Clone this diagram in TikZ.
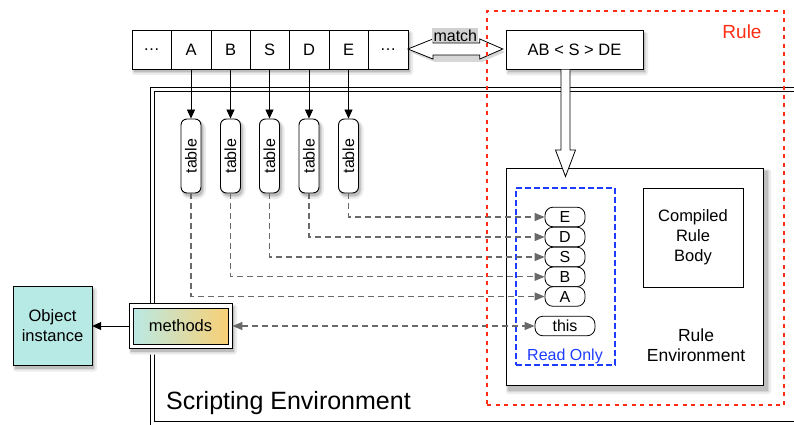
\documentclass[tikz,border=0pt]{standalone}
\usepackage{fontspec}
\setmainfont{Liberation Sans}
\usetikzlibrary{arrows.meta,calc}
\definecolor{objcol}{RGB}{183,233,229}
\definecolor{gcyan}{RGB}{186,233,228}
\definecolor{gorange}{RGB}{248,208,118}
\definecolor{rulered}{RGB}{255,45,20}
\definecolor{roblue}{RGB}{30,60,255}
\definecolor{dgray}{RGB}{105,105,105}
\definecolor{sh1}{RGB}{236,236,236}
\definecolor{sh2}{RGB}{215,215,215}
\definecolor{sh3}{RGB}{190,190,190}
% shadow behind a box: centre x, centre y, width, height, offset, corner radius
\newcommand\myshadow[6]{%
  \fill[sh1,rounded corners=#6+3pt] (#1-#3/2,#2-#4/2+1) rectangle (#1+#3/2+#5+2,#2+#4/2+#5+3);
  \fill[sh2,rounded corners=#6+1pt] (#1-#3/2+1,#2-#4/2+2) rectangle (#1+#3/2+#5,#2+#4/2+#5+1);
  \fill[sh3,rounded corners=#6] (#1-#3/2+2,#2-#4/2+3) rectangle (#1+#3/2+#5-1,#2+#4/2+#5);}
\begin{document}
\begin{tikzpicture}[x=1pt,y=-1pt,
  every node/.style={inner sep=0pt},
  cell/.style={draw,fill=white,minimum width=39.4pt,minimum height=39pt,font=\fontsize{16.5}{18}\selectfont},
  tbl/.style={draw,fill=white,rounded corners=6pt,minimum width=20pt,minimum height=74pt,line width=0.9pt,font=\fontsize{16}{16}\selectfont},
  slot/.style={draw,fill=white,rounded corners=8pt,minimum width=40pt,minimum height=19.6pt,line width=0.8pt,font=\fontsize{16}{18}\selectfont},
  blackarr/.style={-{Triangle[length=9pt,width=8pt]},line width=0.8pt},
  dashc/.style={draw=dgray,line width=1.1pt,dash pattern=on 6pt off 4pt,-{Triangle[length=10pt,width=8pt,fill=dgray]}},
  plaintext/.style={align=center,font=\fontsize{16.5}{20}\selectfont}
]
\useasboundingbox (0,0) rectangle (794,425);
\fill[white] (0,0) rectangle (794,425);

% scripting environment (double border)
\node[draw=black,line width=0.8pt,anchor=north west,minimum width=680pt,minimum height=338pt] (senv) at (150,87) {};
\node[draw=black,line width=0.8pt,anchor=north west,minimum width=672pt,minimum height=330pt] (senvin) at (154,91) {};
\node[anchor=west,font=\fontsize{25}{28}\selectfont] (stext) at (166,403) {Scripting Environment};

% shadows (drawn first)
\myshadow{270}{49.5}{276}{39}{3}{0pt}
\myshadow{574.5}{50}{137}{39}{3}{0pt}
\foreach \x in {191,230.5,269.5,309,348.5} {\myshadow{\x}{156}{20}{74}{3}{6pt}}
\myshadow{634.5}{276.5}{257}{217}{6}{0pt}
\myshadow{52.5}{326}{79}{79}{3}{0pt}
\myshadow{180.5}{326}{103}{45}{3}{0pt}

% top row of cells
\node[cell] (c0) at (151.5,49.5) {\dots};
\node[cell] (cA) at (191,49.5) {A};
\node[cell] (cB) at (230.5,49.5) {B};
\node[cell] (cS) at (269.5,49.5) {S};
\node[cell] (cD) at (309,49.5) {D};
\node[cell] (cE) at (348.5,49.5) {E};
\node[cell] (c1) at (388,49.5) {\dots};

% rule pattern
\node[draw,fill=white,minimum width=137pt,minimum height=39pt,font=\fontsize{16.5}{18}\selectfont] (pat) at (574.5,50) {AB < S > DE};

% match double arrow
\coordinate (ml) at (c1.east |- 0,49);
\coordinate (mr) at ($(pat.west |- 0,49)+(-3,0)$);
\fill[sh2] ($(ml)+(2,3)$) -- ($(ml)+(27,-7)$) -- ($(mr)+(-21,-7)$) -- ($(mr)+(2,3)$) -- ($(mr)+(-21,13)$) -- ($(ml)+(27,13)$) -- cycle;
\draw[fill=white,line width=0.8pt] (ml) -- ($(ml)+(25,-10)$) -- ($(ml)+(25,-6)$) -- ($(mr)+(-23,-6)$) -- ($(mr)+(-23,-10)$) -- (mr) -- ($(mr)+(-23,10)$) -- ($(mr)+(-23,6)$) -- ($(ml)+(25,6)$) -- ($(ml)+(25,10)$) -- cycle;
\node[fill=black!18,anchor=south,minimum width=46pt,minimum height=14pt,font=\fontsize{16}{16}\selectfont] (match) at ($(ml)!0.5!(mr)+(0,-6.5)$) {match};

% tables
\node[tbl] (tA) at (191,156) {\rotatebox{90}{table}};
\node[tbl] (tB) at (230.5,156) {\rotatebox{90}{table}};
\node[tbl] (tS) at (269.5,156) {\rotatebox{90}{table}};
\node[tbl] (tD) at (309,156) {\rotatebox{90}{table}};
\node[tbl] (tE) at (348.5,156) {\rotatebox{90}{table}};
\foreach \n in {A,B,S,D,E} {\draw[blackarr] (c\n.south) -- (t\n.north);}

% rule environment
\node[draw,fill=white,line width=0.9pt,minimum width=257pt,minimum height=217pt] (renv) at (634.5,276.5) {};
\node[draw,line width=0.9pt,minimum width=100pt,minimum height=99pt,plaintext] (crb) at (693,237.5) {Compiled\\Rule\\Body};
\node[plaintext,font=\fontsize{17.5}{20}\selectfont] (rtext) at (696,345) {Rule\\Environment};

% read only box
\node[draw=roblue,dash pattern=on 6pt off 3pt,line width=2.2pt,minimum width=99pt,minimum height=177pt] (ro) at (565.5,276.5) {};
\node[text=roblue,font=\fontsize{16}{18}\selectfont] (rotext) at (565,356.5) {Read Only};

\node[slot] (sE) at (565,217) {E};
\node[slot] (sD) at (565,237) {D};
\node[slot] (sS) at (565,257) {S};
\node[slot] (sB) at (565,276.8) {B};
\node[slot] (sA) at (565,296.5) {A};
\node[slot,minimum width=60pt] (this) at (565,326) {this};

\foreach \n in {A,B,S,D,E} {\path[dashc] (t\n.south) |- (s\n.west);}

% object & methods
\node[draw,fill=objcol,minimum width=79pt,minimum height=79pt,plaintext] (obj) at (52.5,326) {Object\\instance};
\node[draw,fill=white,line width=0.9pt,minimum width=103pt,minimum height=45pt] (mouter) at (180.5,326) {};
\node[draw,left color=gcyan,right color=gorange,line width=0.9pt,minimum width=95pt,minimum height=36pt,font=\fontsize{16.5}{18}\selectfont] (meth) at (mouter.center) {methods};
\draw[blackarr] (mouter.west) -- (obj.east);
\path[dashc,{Triangle[length=10pt,width=8pt,fill=dgray]}-{Triangle[length=10pt,width=8pt,fill=dgray]}] (mouter.east) -- (this.west);

% block arrow down
\coordinate (bt) at ($(pat.south)+(-9,0)$);
\coordinate (bb) at ($(renv.north)+(-69,9)$);
\draw[fill=white,line width=0.8pt] ($(bt)+(-4.5,0)$) -- ($(bt |- 0,150)+(-4.5,0)$) -- ($(bt |- 0,150)+(-10,0)$) -- (bt |- bb) -- ($(bt |- 0,150)+(10,0)$) -- ($(bt |- 0,150)+(4.5,0)$) -- ($(bt)+(4.5,0)$);

% rule dotted box
\node[draw=rulered,dash pattern=on 4pt off 4.5pt,line width=2.4pt,anchor=north west,minimum width=297pt,minimum height=394pt] (rulebox) at (486,10) {};
\node[text=rulered,font=\fontsize{19}{20}\selectfont] (ruletext) at (742,32) {Rule};
\end{tikzpicture}
\end{document}
